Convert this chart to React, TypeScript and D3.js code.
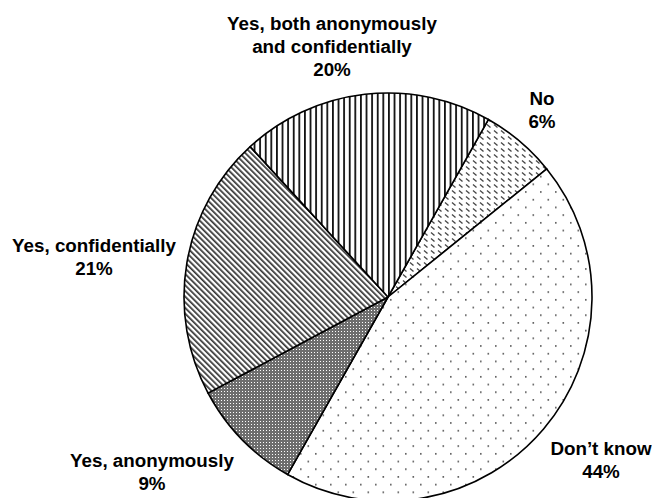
import React from 'react';
import * as d3 from 'd3';

const categories = ['No', "Don\u2019t know", 'Yes, anonymously', 'Yes, confidentially', 'Yes, both anonymously and confidentially'];
const values = [6, 44, 9, 21, 20];
const labelLines = [
  ['No'],
  ['Don\u2019t know'],
  ['Yes, anonymously'],
  ['Yes, confidentially'],
  ['Yes, both anonymously', 'and confidentially'],
];
const patterns = ['dash', 'dots', 'check', 'diag', 'vert'];

// label centres (layout only)
const labelPos: [number, number][] = [
  [542, 98],
  [601, 448],
  [152, 460],
  [94, 245],
  [332, 23],
];

const W = 652;
const H = 498;
const cx = 388;
const cy = 297;
const radius = 204;
const startDeg = 29.5;

export default function App() {
  const data = categories.map((c, i) => ({ label: c, value: values[i], lines: labelLines[i], pat: patterns[i] }));

  const pie = d3
    .pie<{ label: string; value: number; lines: string[]; pat: string }>()
    .value(d => d.value)
    .sort(null)
    .startAngle((startDeg * Math.PI) / 180)
    .endAngle((startDeg * Math.PI) / 180 + 2 * Math.PI);

  const arc = d3
    .arc<d3.PieArcDatum<{ label: string; value: number; lines: string[]; pat: string }>>()
    .innerRadius(0)
    .outerRadius(radius);

  const arcs = pie(data);
  const lineH = 23;

  return (
    <svg width={W} height={H} style={{ position: 'absolute', left: 0, top: 0, background: '#fff' }}>
      <defs>
        {/* dashed downward diagonal */}
        <pattern id="dash" patternUnits="userSpaceOnUse" width={7} height={6}>
          <rect width={7} height={6} fill="#fff" />
          <line x1={1} y1={1.5} x2={4.5} y2={4.5} stroke="#444" strokeWidth={1.3} />
        </pattern>
        {/* sparse dots */}
        <pattern id="dots" patternUnits="userSpaceOnUse" width={15} height={15.4}>
          <rect width={15} height={15.4} fill="#fff" />
          <rect x={2} y={2} width={1.6} height={1.6} fill="#555" />
          <rect x={9.5} y={9.7} width={1.6} height={1.6} fill="#555" />
        </pattern>
        {/* fine checker */}
        <pattern id="check" patternUnits="userSpaceOnUse" x={0} y={0} width={3} height={3}>
          <rect width={3} height={3} fill="#6e6e6e" shapeRendering="crispEdges" />
          <rect x={1} y={1} width={1} height={1} fill="#fff" shapeRendering="crispEdges" />
        </pattern>
        {/* narrow downward diagonal */}
        <pattern id="diag" patternUnits="userSpaceOnUse" width={4} height={4} patternTransform="rotate(-45)">
          <rect width={4} height={4} fill="#fff" />
          <rect x={0} y={0} width={1.7} height={4} fill="#333" />
        </pattern>
        {/* vertical lines */}
        <pattern id="vert" patternUnits="userSpaceOnUse" width={5.6} height={10}>
          <rect width={5.6} height={10} fill="#fff" />
          <rect x={0} y={0} width={1.8} height={10} fill="#111" />
        </pattern>
      </defs>

      <g transform={`translate(${cx},${cy})`}>
        {arcs.map((d, i) => (
          <path key={i} d={arc(d) || ''} fill={`url(#${d.data.pat})`} stroke="#000" strokeWidth={1.6} strokeLinejoin="round" />
        ))}
      </g>

      {arcs.map((d, i) => {
        const [x, y] = labelPos[i];
        const lines = [...d.data.lines, `${d.data.value}%`];
        return (
          <text
            key={i}
            x={x}
            y={y}
            textAnchor="middle"
            fontFamily="'Liberation Sans', Arial, sans-serif"
            fontWeight="bold"
            fontSize={18.8}
            fill="#000"
          >
            {lines.map((t, j) => (
              <tspan key={j} x={x} y={y + j * lineH} dy="0.35em">
                {t}
              </tspan>
            ))}
          </text>
        );
      })}
    </svg>
  );
}
